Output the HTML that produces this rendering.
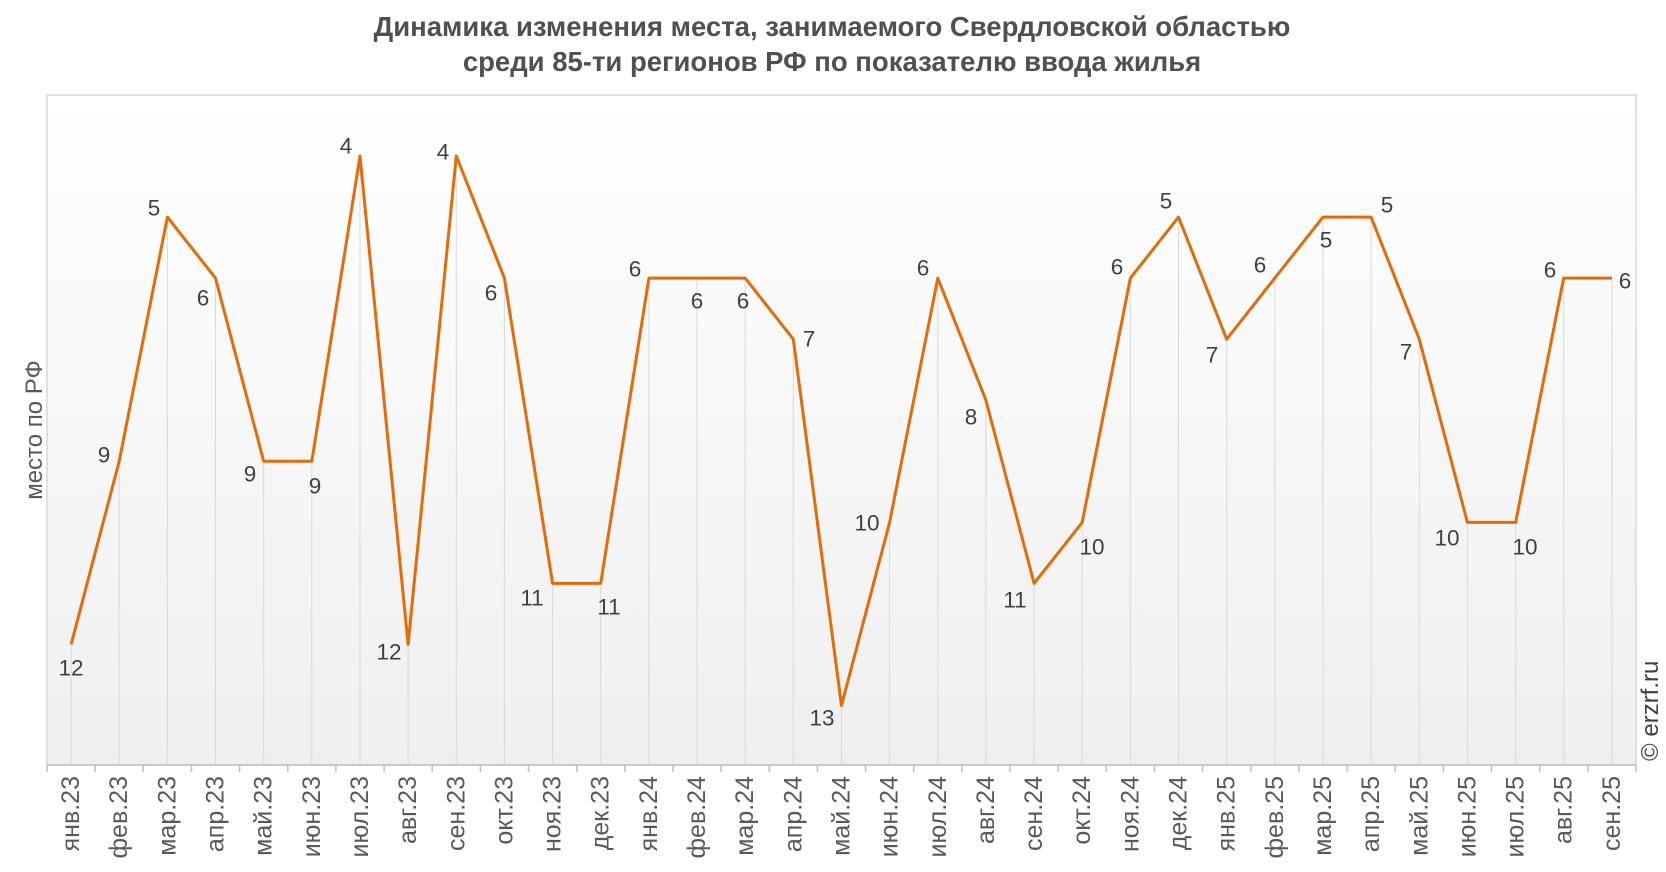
<!DOCTYPE html>
<html><head><meta charset="utf-8"><style>
html,body{margin:0;padding:0;background:#fff;}
svg{display:block;font-family:"Liberation Sans",Arial,sans-serif;}
</style></head><body>
<svg width="1666" height="872" viewBox="0 0 1666 872" xmlns="http://www.w3.org/2000/svg">
<defs><linearGradient id="bg" x1="0" y1="0" x2="0" y2="1"><stop offset="0" stop-color="#ffffff"/><stop offset="1" stop-color="#efefef"/></linearGradient></defs>
<text x="832" y="36" text-anchor="middle" font-size="27.5" font-weight="bold" fill="#505050">Динамика изменения места, занимаемого Свердловской областью</text>
<text x="832" y="71" text-anchor="middle" font-size="27.5" font-weight="bold" fill="#505050">среди 85-ти регионов РФ по показателю ввода жилья</text>
<rect x="47" y="95" width="1589" height="670" fill="url(#bg)" stroke="#d9d9d9" stroke-width="1.5"/>
<g stroke="#d9d9d9" stroke-width="1">
<line x1="71.1" y1="644.5" x2="71.1" y2="765"/><line x1="119.2" y1="461.3" x2="119.2" y2="765"/><line x1="167.4" y1="217.1" x2="167.4" y2="765"/><line x1="215.5" y1="278.1" x2="215.5" y2="765"/><line x1="263.7" y1="461.3" x2="263.7" y2="765"/><line x1="311.8" y1="461.3" x2="311.8" y2="765"/><line x1="360" y1="156" x2="360" y2="765"/><line x1="408.1" y1="644.5" x2="408.1" y2="765"/><line x1="456.3" y1="156" x2="456.3" y2="765"/><line x1="504.4" y1="278.1" x2="504.4" y2="765"/><line x1="552.6" y1="583.4" x2="552.6" y2="765"/><line x1="600.7" y1="583.4" x2="600.7" y2="765"/><line x1="648.9" y1="278.1" x2="648.9" y2="765"/><line x1="697" y1="278.1" x2="697" y2="765"/><line x1="745.2" y1="278.1" x2="745.2" y2="765"/><line x1="793.3" y1="339.2" x2="793.3" y2="765"/><line x1="841.5" y1="705.5" x2="841.5" y2="765"/><line x1="889.6" y1="522.4" x2="889.6" y2="765"/><line x1="937.8" y1="278.1" x2="937.8" y2="765"/><line x1="985.9" y1="400.2" x2="985.9" y2="765"/><line x1="1034.1" y1="583.4" x2="1034.1" y2="765"/><line x1="1082.2" y1="522.4" x2="1082.2" y2="765"/><line x1="1130.4" y1="278.1" x2="1130.4" y2="765"/><line x1="1178.5" y1="217.1" x2="1178.5" y2="765"/><line x1="1226.7" y1="339.2" x2="1226.7" y2="765"/><line x1="1274.8" y1="278.1" x2="1274.8" y2="765"/><line x1="1323" y1="217.1" x2="1323" y2="765"/><line x1="1371.1" y1="217.1" x2="1371.1" y2="765"/><line x1="1419.3" y1="339.2" x2="1419.3" y2="765"/><line x1="1467.4" y1="522.4" x2="1467.4" y2="765"/><line x1="1515.6" y1="522.4" x2="1515.6" y2="765"/><line x1="1563.7" y1="278.1" x2="1563.7" y2="765"/><line x1="1611.9" y1="278.1" x2="1611.9" y2="765"/>
</g>
<line x1="47" y1="765" x2="1636" y2="765" stroke="#bfbfbf" stroke-width="1.5"/>
<g stroke="#bfbfbf" stroke-width="1.5">
<line x1="47" y1="765" x2="47" y2="772"/><line x1="95.2" y1="765" x2="95.2" y2="772"/><line x1="143.3" y1="765" x2="143.3" y2="772"/><line x1="191.5" y1="765" x2="191.5" y2="772"/><line x1="239.6" y1="765" x2="239.6" y2="772"/><line x1="287.8" y1="765" x2="287.8" y2="772"/><line x1="335.9" y1="765" x2="335.9" y2="772"/><line x1="384.1" y1="765" x2="384.1" y2="772"/><line x1="432.2" y1="765" x2="432.2" y2="772"/><line x1="480.4" y1="765" x2="480.4" y2="772"/><line x1="528.5" y1="765" x2="528.5" y2="772"/><line x1="576.7" y1="765" x2="576.7" y2="772"/><line x1="624.8" y1="765" x2="624.8" y2="772"/><line x1="673" y1="765" x2="673" y2="772"/><line x1="721.1" y1="765" x2="721.1" y2="772"/><line x1="769.3" y1="765" x2="769.3" y2="772"/><line x1="817.4" y1="765" x2="817.4" y2="772"/><line x1="865.6" y1="765" x2="865.6" y2="772"/><line x1="913.7" y1="765" x2="913.7" y2="772"/><line x1="961.9" y1="765" x2="961.9" y2="772"/><line x1="1010" y1="765" x2="1010" y2="772"/><line x1="1058.2" y1="765" x2="1058.2" y2="772"/><line x1="1106.3" y1="765" x2="1106.3" y2="772"/><line x1="1154.5" y1="765" x2="1154.5" y2="772"/><line x1="1202.6" y1="765" x2="1202.6" y2="772"/><line x1="1250.8" y1="765" x2="1250.8" y2="772"/><line x1="1298.9" y1="765" x2="1298.9" y2="772"/><line x1="1347.1" y1="765" x2="1347.1" y2="772"/><line x1="1395.2" y1="765" x2="1395.2" y2="772"/><line x1="1443.4" y1="765" x2="1443.4" y2="772"/><line x1="1491.5" y1="765" x2="1491.5" y2="772"/><line x1="1539.7" y1="765" x2="1539.7" y2="772"/><line x1="1587.8" y1="765" x2="1587.8" y2="772"/><line x1="1636" y1="765" x2="1636" y2="772"/>
</g>
<polyline fill="none" stroke="#E36C0A" stroke-width="3" stroke-linejoin="round" points="71.1,644.5 119.2,461.3 167.4,217.1 215.5,278.1 263.7,461.3 311.8,461.3 360,156 408.1,644.5 456.3,156 504.4,278.1 552.6,583.4 600.7,583.4 648.9,278.1 697,278.1 745.2,278.1 793.3,339.2 841.5,705.5 889.6,522.4 937.8,278.1 985.9,400.2 1034.1,583.4 1082.2,522.4 1130.4,278.1 1178.5,217.1 1226.7,339.2 1274.8,278.1 1323,217.1 1371.1,217.1 1419.3,339.2 1467.4,522.4 1515.6,522.4 1563.7,278.1 1611.9,278.1"/>
<g font-size="22.5" fill="#404040" text-anchor="middle" dominant-baseline="central">
<text x="71" y="668">12</text><text x="104" y="455">9</text><text x="154" y="208">5</text><text x="203" y="298">6</text><text x="250" y="474">9</text><text x="315" y="486">9</text><text x="346" y="146">4</text><text x="389" y="652">12</text><text x="443" y="152">4</text><text x="491" y="293">6</text><text x="532" y="598">11</text><text x="609" y="607">11</text><text x="635" y="269">6</text><text x="697" y="301">6</text><text x="743" y="301">6</text><text x="809" y="339">7</text><text x="822" y="718">13</text><text x="867" y="523">10</text><text x="923" y="268">6</text><text x="971" y="417">8</text><text x="1015" y="600">11</text><text x="1092" y="547">10</text><text x="1117" y="267">6</text><text x="1166" y="201">5</text><text x="1212" y="355">7</text><text x="1260" y="265">6</text><text x="1326" y="240">5</text><text x="1387" y="205">5</text><text x="1406" y="352">7</text><text x="1447" y="538">10</text><text x="1525" y="547">10</text><text x="1550" y="270">6</text><text x="1625" y="281">6</text>
</g>
<g font-size="25" fill="#595959" text-anchor="end">
<text transform="translate(79,776) rotate(-90)">янв.23</text><text transform="translate(127.2,776) rotate(-90)">фев.23</text><text transform="translate(175.4,776) rotate(-90)">мар.23</text><text transform="translate(223.5,776) rotate(-90)">апр.23</text><text transform="translate(271.7,776) rotate(-90)">май.23</text><text transform="translate(319.8,776) rotate(-90)">июн.23</text><text transform="translate(368,776) rotate(-90)">июл.23</text><text transform="translate(416.1,776) rotate(-90)">авг.23</text><text transform="translate(464.3,776) rotate(-90)">сен.23</text><text transform="translate(512.4,776) rotate(-90)">окт.23</text><text transform="translate(560.6,776) rotate(-90)">ноя.23</text><text transform="translate(608.7,776) rotate(-90)">дек.23</text><text transform="translate(656.9,776) rotate(-90)">янв.24</text><text transform="translate(705,776) rotate(-90)">фев.24</text><text transform="translate(753.2,776) rotate(-90)">мар.24</text><text transform="translate(801.3,776) rotate(-90)">апр.24</text><text transform="translate(849.5,776) rotate(-90)">май.24</text><text transform="translate(897.6,776) rotate(-90)">июн.24</text><text transform="translate(945.8,776) rotate(-90)">июл.24</text><text transform="translate(993.9,776) rotate(-90)">авг.24</text><text transform="translate(1042.1,776) rotate(-90)">сен.24</text><text transform="translate(1090.2,776) rotate(-90)">окт.24</text><text transform="translate(1138.4,776) rotate(-90)">ноя.24</text><text transform="translate(1186.5,776) rotate(-90)">дек.24</text><text transform="translate(1234.7,776) rotate(-90)">янв.25</text><text transform="translate(1282.8,776) rotate(-90)">фев.25</text><text transform="translate(1331,776) rotate(-90)">мар.25</text><text transform="translate(1379.1,776) rotate(-90)">апр.25</text><text transform="translate(1427.3,776) rotate(-90)">май.25</text><text transform="translate(1475.4,776) rotate(-90)">июн.25</text><text transform="translate(1523.6,776) rotate(-90)">июл.25</text><text transform="translate(1571.7,776) rotate(-90)">авг.25</text><text transform="translate(1619.9,776) rotate(-90)">сен.25</text>
</g>
<text transform="translate(42,430) rotate(-90)" text-anchor="middle" font-size="24" fill="#595959">место по РФ</text>
<text transform="translate(1658,761) rotate(-90)" text-anchor="start" font-size="24" fill="#404040">© erzrf.ru</text>
</svg>
</body></html>
